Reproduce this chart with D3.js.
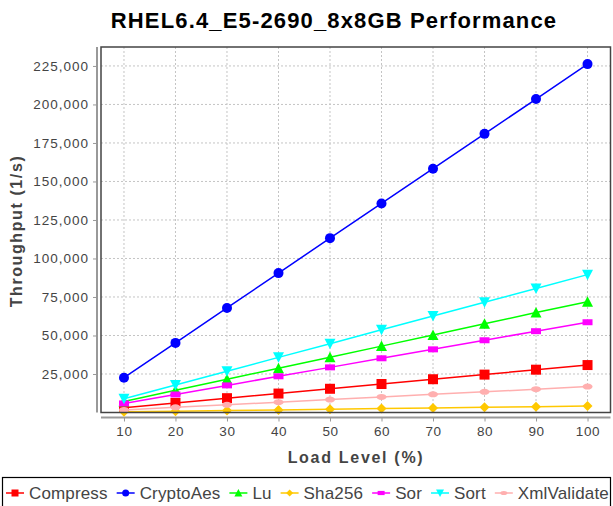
<!DOCTYPE html>
<html>
<head>
<meta charset="utf-8">
<script src="https://cdn.jsdelivr.net/npm/d3@7"></script>
<style>
  body { margin: 0; background: #fff; }
  text { font-family: "Liberation Sans", Arial, sans-serif; }
</style>
</head>
<body>
<svg id="chart" width="613" height="506"></svg>
<script>
// data
var loadLevels = [10, 20, 30, 40, 50, 60, 70, 80, 90, 100];
var compress    = [3100, 6200, 9300, 12300, 15400, 18500, 21600, 24600, 27800, 30800];
var cryptoAes   = [22600, 45200, 67900, 90500, 113200, 135700, 158300, 180900, 203500, 226200];
var lu          = [7200, 14400, 21600, 28700, 35900, 43100, 50300, 57600, 64900, 71900];
var sha256      = [420, 840, 1260, 1680, 2100, 2520, 2940, 3360, 3780, 4200];
var sor         = [5900, 11700, 17600, 23500, 29300, 35200, 41000, 46900, 52800, 58600];
var sort        = [8900, 17900, 26800, 35800, 44700, 53700, 62600, 71600, 80500, 89500];
var xmlValidate = [1700, 3400, 5000, 6700, 8400, 10100, 11800, 13400, 15100, 16800];
var yTicks = [25000, 50000, 75000, 100000, 125000, 150000, 175000, 200000, 225000];

var seriesNames  = ["Compress", "CryptoAes", "Lu", "Sha256", "Sor", "Sort", "XmlValidate"];
var seriesValues = [compress, cryptoAes, lu, sha256, sor, sort, xmlValidate];
var seriesColors = ["#ff0000", "#0000ff", "#00ff00", "#ffc800", "#ff00ff", "#00ffff", "#ffafaf"];
var seriesShapes = ["square", "circle", "up", "diamond", "hrect", "down", "ellipse"];

var svg = d3.select("#chart");

// plot area
var pLeft = 101, pRight = 610.5, pTop = 47, pBottom = 412.5;

var x = d3.scaleLinear().domain([5.54, 104.46]).range([pLeft, pRight]);
var y = d3.scaleLinear().domain([0, 237300]).range([pBottom, pTop]);

// tvar markeru (s = velikost)
function shapePath(shape, s) {
    var h = s / 2;
    switch (shape) {
        case "square":  return "M" + (-h) + "," + (-h) + "h" + s + "v" + s + "h" + (-s) + "Z";
        case "circle":  return "M" + (-h) + ",0a" + h + "," + h + " 0 1,0 " + s + ",0a" + h + "," + h + " 0 1,0 " + (-s) + ",0Z";
        case "up":      return "M0," + (-h - 0.5) + "L" + (h + 0.5) + "," + (h) + "L" + (-h - 0.5) + "," + (h) + "Z";
        case "down":    return "M0," + (h + 0.5) + "L" + (h + 0.5) + "," + (-h) + "L" + (-h - 0.5) + "," + (-h) + "Z";
        case "diamond": return "M0," + (-h) + "L" + h + ",0L0," + h + "L" + (-h) + ",0Z";
        case "hrect":   return "M" + (-h) + "," + (-h * 0.6) + "h" + s + "v" + (s * 0.6) + "h" + (-s) + "Z";
        case "ellipse": return "M" + (-h) + ",0a" + h + "," + (h * 0.6) + " 0 1,0 " + s + ",0a" + h + "," + (h * 0.6) + " 0 1,0 " + (-s) + ",0Z";
    }
}

// title
svg.append("text")
    .attr("x", 334).attr("y", 28)
    .attr("text-anchor", "middle")
    .style("font-size", "22px").style("font-weight", "bold")
    .style("letter-spacing", "1.15px")
    .attr("fill", "#000")
    .text("RHEL6.4_E5-2690_8x8GB Performance");

// gridlines
var grid = svg.append("g");
grid.selectAll(".gx").data(loadLevels).enter().append("line")
    .attr("x1", d => x(d)).attr("x2", d => x(d))
    .attr("y1", pTop).attr("y2", pBottom)
    .attr("stroke", "#c4c4c4").attr("stroke-dasharray", "2,2");
grid.selectAll(".gy").data(yTicks).enter().append("line")
    .attr("x1", pLeft).attr("x2", pRight)
    .attr("y1", d => y(d)).attr("y2", d => y(d))
    .attr("stroke", "#c4c4c4").attr("stroke-dasharray", "2,2");

// axes (offset from the plot)
var yAxis = d3.axisLeft(y).tickValues(yTicks).tickSize(4).tickPadding(4)
    .tickFormat(d3.format(","));
var gy = svg.append("g").attr("transform", "translate(97,0)").call(yAxis);
gy.select(".domain").attr("stroke", "#999").attr("stroke-width", 2)
    .attr("d", "M0," + pTop + "V" + pBottom);
gy.selectAll(".tick line").attr("stroke", "#999");
gy.selectAll(".tick text").attr("fill", "#444")
    .style("font-size", "13.5px").style("letter-spacing", "1px")
    .style("font-family", "Liberation Sans, Arial, sans-serif");

var xAxis = d3.axisBottom(x).tickValues(loadLevels).tickSize(4).tickPadding(5);
var gx = svg.append("g").attr("transform", "translate(0,417.5)").call(xAxis);
gx.select(".domain").attr("stroke", "#999").attr("stroke-width", 2)
    .attr("d", "M" + pLeft + ",0H" + pRight);
gx.selectAll(".tick line").attr("stroke", "#999");
gx.selectAll(".tick text").attr("fill", "#444")
    .style("font-size", "13.5px").style("letter-spacing", "0.6px")
    .style("font-family", "Liberation Sans, Arial, sans-serif");

// axis labels
svg.append("text")
    .attr("transform", "translate(22,231) rotate(-90)")
    .attr("text-anchor", "middle")
    .style("font-size", "16px").style("font-weight", "bold")
    .style("letter-spacing", "1.6px")
    .attr("fill", "#444")
    .text("Throughput (1/s)");

svg.append("text")
    .attr("x", 356).attr("y", 463)
    .attr("text-anchor", "middle")
    .style("font-size", "16px").style("font-weight", "bold")
    .style("letter-spacing", "1.7px")
    .attr("fill", "#444")
    .text("Load Level (%)");

// series
var line = d3.line().x((d, i) => x(loadLevels[i])).y(d => y(d));
var plot = svg.append("g");
seriesValues.forEach(function (vals, k) {
    plot.append("path")
        .attr("d", line(vals))
        .attr("fill", "none")
        .attr("stroke", seriesColors[k])
        .attr("stroke-width", 1.5);
    plot.selectAll(".m" + k).data(vals).enter().append("path")
        .attr("transform", (d, i) => "translate(" + x(loadLevels[i]) + "," + y(d) + ")")
        .attr("d", shapePath(seriesShapes[k], 10))
        .attr("fill", seriesColors[k]);
});

// plot border
svg.append("rect")
    .attr("x", pLeft).attr("y", pTop)
    .attr("width", pRight - pLeft).attr("height", pBottom - pTop)
    .attr("fill", "none").attr("stroke", "#444").attr("stroke-width", 1.5);

// legend
svg.append("rect")
    .attr("x", 2.5).attr("y", 477.5).attr("width", 608).attr("height", 40)
    .attr("fill", "#fff").attr("stroke", "#000").attr("stroke-width", 1.2);

var lg = svg.append("g");
var cx = 6;
seriesNames.forEach(function (name, k) {
    var item = lg.append("g").attr("transform", "translate(" + cx + ",0)");
    item.append("line").attr("x1", 0).attr("x2", 18).attr("y1", 493).attr("y2", 493)
        .attr("stroke", seriesColors[k]).attr("stroke-width", 1.5);
    item.append("path").attr("transform", "translate(9,493)")
        .attr("d", shapePath(seriesShapes[k], 7))
        .attr("fill", seriesColors[k]);
    var t = item.append("text").attr("x", 23).attr("y", 499)
        .style("font-size", "17px").style("letter-spacing", "0.15px")
        .attr("fill", "#444")
        .text(name);
    cx += 23 + t.node().getComputedTextLength() + 9;
});
</script>
</body>
</html>
